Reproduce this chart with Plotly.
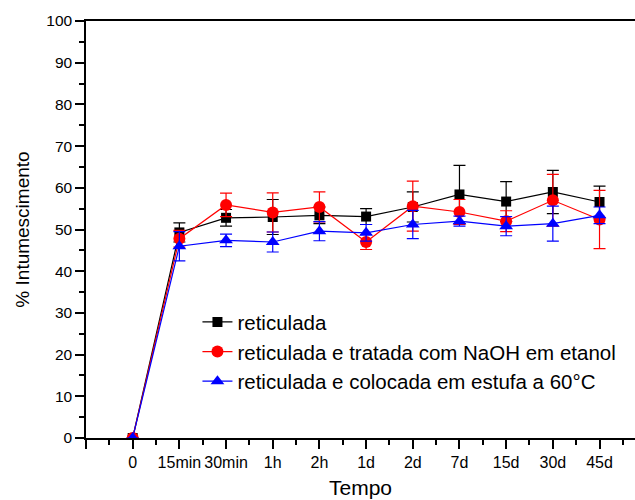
import plotly.graph_objects as go

# Swelling (%) over time for three treatments
tempo = ["0", "15min", "30min", "1h", "2h", "1d", "2d", "7d", "15d", "30d", "45d"]

reticulada = [0, 49.3, 52.8, 53.0, 53.4, 53.1, 55.4, 58.4, 56.7, 59.0, 56.6]
reticulada_err = [0, 2.3, 2.0, 4.2, 2.0, 1.9, 3.6, 7.0, 4.8, 5.2, 3.8]

naoh = [0, 47.8, 55.9, 54.1, 55.4, 47.0, 55.6, 54.2, 52.0, 57.0, 52.4]
naoh_err = [0, 2.0, 2.8, 4.7, 3.6, 1.8, 6.0, 3.0, 2.5, 6.2, 7.0]

estufa = [0, 46.0, 47.4, 47.0, 49.6, 49.2, 51.2, 52.0, 50.8, 51.4, 53.4]
estufa_err = [0, 3.5, 1.5, 2.4, 2.3, 2.0, 3.4, 1.2, 2.3, 4.2, 2.0]

nomes = [
    "reticulada",
    "reticulada e tratada com NaOH em etanol",
    "reticulada e colocada em estufa a 60°C",
]

x = list(range(len(tempo)))
series = [
    (reticulada, reticulada_err, nomes[0], "#000000", "square", 10),
    (naoh, naoh_err, nomes[1], "#ff0000", "circle", 12),
    (estufa, estufa_err, nomes[2], "#0000ff", "triangle-up", 12),
]

fig = go.Figure()
for y, err, name, color, symbol, size in series:
    fig.add_trace(go.Scatter(
        x=x, y=y, name=name, mode="lines+markers",
        line=dict(color=color, width=1.2),
        marker=dict(symbol=symbol, size=size, color=color),
        error_y=dict(type="data", array=err, visible=True,
                     color=color, thickness=1.2, width=6),
    ))

font = "Liberation Sans, Arial, sans-serif"

fig.update_layout(
    width=635, height=500,
    margin=dict(l=86, r=0, t=21, b=62),
    paper_bgcolor="white", plot_bgcolor="white",
    font=dict(family=font, color="black", size=16),
    showlegend=True,
    legend=dict(
        x=0.203, y=0.326, xanchor="left", yanchor="top",
        bgcolor="rgba(0,0,0,0)", font=dict(size=20.5),
        tracegroupgap=0, itemwidth=30,
    ),
    xaxis=dict(
        range=[-1, 10.76],
        tickmode="array",
        tickvals=[-1] + x,
        ticktext=[""] + tempo,
        tickfont=dict(size=16),
        ticks="outside", ticklen=9, tickwidth=1.5, tickcolor="black",
        minor=dict(tickmode="array",
                   tickvals=[i + 0.5 for i in range(-1, 11)],
                   ticks="outside", ticklen=5, tickwidth=1.5,
                   tickcolor="black"),
        showline=True, linewidth=1.5, linecolor="black", mirror=True,
        showgrid=False, zeroline=False,
        title=dict(text="Tempo", font=dict(size=21), standoff=10),
    ),
    yaxis=dict(
        range=[0, 100],
        tickmode="linear", tick0=0, dtick=10,
        tickfont=dict(size=15.5),
        ticks="outside", ticklen=9, tickwidth=1.5, tickcolor="black",
        minor=dict(dtick=5, ticks="outside", ticklen=5, tickwidth=1.5,
                   tickcolor="black"),
        showline=True, linewidth=1.5, linecolor="black",
        showgrid=False, zeroline=False,
        title=dict(text="% Intumescimento", font=dict(size=19), standoff=12),
    ),
)

fig.write_html("out.html")
